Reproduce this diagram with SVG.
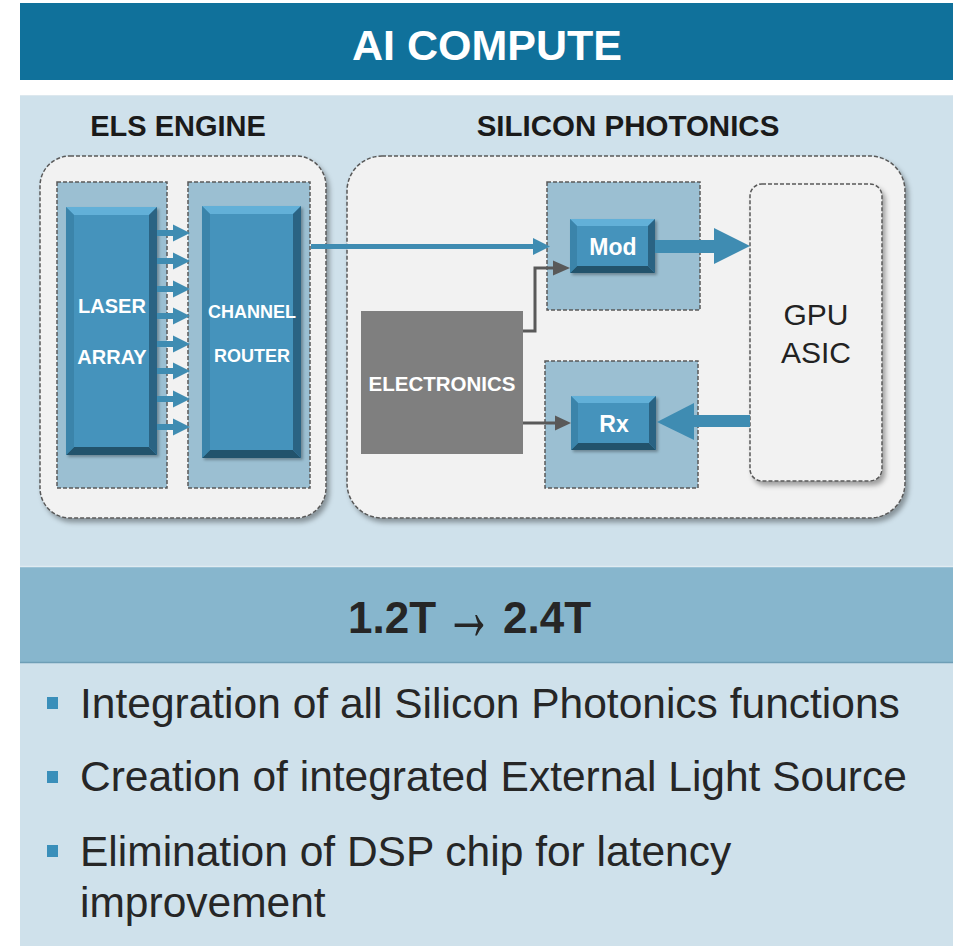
<svg xmlns="http://www.w3.org/2000/svg" width="959" height="946" viewBox="0 0 959 946">
<defs>
<filter id="sh" x="-10%" y="-10%" width="125%" height="125%">
<feDropShadow dx="3" dy="4" stdDeviation="2.5" flood-color="#000" flood-opacity="0.35"/>
</filter>
<filter id="sh2" x="-10%" y="-10%" width="125%" height="125%">
<feDropShadow dx="2" dy="2" stdDeviation="1.5" flood-color="#000" flood-opacity="0.3"/>
</filter>
<style>
.f{font-family:"Liberation Sans",Arial,sans-serif}
.b{font-weight:bold}
.outer{fill:#F2F2F2;stroke:#595959;stroke-width:1.5;stroke-dasharray:4 2}
.cont{fill:#9BBFD2;stroke:#595959;stroke-width:1.5;stroke-dasharray:4 2}
.bm{fill:#4493BC}
.bt{fill:#62B0D8}
.bb{fill:#23536C}
.bl{fill:#3B84AA}
.br{fill:#2B6383}
.wt{fill:#FFFFFF;text-anchor:middle}
.blue{fill:#3F8CB2}
.grayln{fill:none;stroke:#595959;stroke-width:3}
.grayhd{fill:#595959}
.bul{fill:#3A8FBA}
.bt2{fill:#262626;font-size:42.5px}
</style>
</defs>

<rect x="20" y="3" width="933" height="77" fill="#10719B"/>
<text class="f b" x="487" y="60" font-size="43" fill="#FFFFFF" text-anchor="middle">AI COMPUTE</text>

<rect x="20" y="95" width="933" height="851" fill="#CFE1EB"/>
<line x1="20" y1="95.5" x2="953" y2="95.5" stroke="#DDE8EE" stroke-width="1"/>

<text class="f b" x="178" y="136" font-size="29" fill="#1A1A1A" text-anchor="middle">ELS ENGINE</text>
<text class="f b" x="628" y="136" font-size="29.5" fill="#1A1A1A" text-anchor="middle">SILICON PHOTONICS</text>

<g id="els-engine">
<rect class="outer" x="40" y="156" width="286" height="362" rx="30" filter="url(#sh)"/>
</g>
<g id="silicon-photonics">
<rect class="outer" x="347" y="156" width="558" height="362" rx="35" filter="url(#sh)"/>
</g>

<g id="laser-array">
<rect class="cont" x="57" y="182" width="110" height="306"/>
<g filter="url(#sh2)">
<rect class="bm" x="66" y="207" width="91" height="248"/>
<polygon class="bt" points="66,207 157,207 149,215 74,215"/>
<polygon class="bb" points="66,455 157,455 149,447 74,447"/>
<polygon class="bl" points="66,207 74,215 74,447 66,455"/>
<polygon class="br" points="157,207 149,215 149,447 157,455"/>
</g>
<text class="f b wt" x="112" y="313" font-size="20">LASER</text>
<text class="f b wt" x="112" y="364" font-size="20">ARRAY</text>
</g>

<g id="channel-router">
<rect class="cont" x="188" y="182" width="122" height="306"/>
<g filter="url(#sh2)">
<rect class="bm" x="202" y="206" width="99" height="252"/>
<polygon class="bt" points="202,206 301,206 293,214 210,214"/>
<polygon class="bb" points="202,458 301,458 293,450 210,450"/>
<polygon class="bl" points="202,206 210,214 210,450 202,458"/>
<polygon class="br" points="301,206 293,214 293,450 301,458"/>
</g>
<text class="f b wt" x="252" y="318" font-size="18">CHANNEL</text>
<text class="f b wt" x="252" y="362" font-size="18">ROUTER</text>
</g>

<g id="mod">
<rect class="cont" x="547" y="182" width="153" height="128"/>
<g filter="url(#sh2)">
<rect class="bm" x="570" y="219" width="85" height="54"/>
<polygon class="bt" points="570,219 655,219 648,226 577,226"/>
<polygon class="bb" points="570,273 655,273 648,266 577,266"/>
<polygon class="bl" points="570,219 577,226 577,266 570,273"/>
<polygon class="br" points="655,219 648,226 648,266 655,273"/>
</g>
<text class="f b wt" x="613" y="255" font-size="23">Mod</text>
</g>

<g id="rx">
<rect class="cont" x="545" y="361" width="153" height="127"/>
<g filter="url(#sh2)">
<rect class="bm" x="571" y="396" width="85" height="54"/>
<polygon class="bt" points="571,396 656,396 649,403 578,403"/>
<polygon class="bb" points="571,450 656,450 649,443 578,443"/>
<polygon class="bl" points="571,396 578,403 578,443 571,450"/>
<polygon class="br" points="656,396 649,403 649,443 656,450"/>
</g>
<text class="f b wt" x="614" y="432" font-size="23">Rx</text>
</g>

<g id="electronics">
<rect x="361" y="311" width="162" height="143" fill="#7F7F7F"/>
<text class="f b wt" x="442" y="391" font-size="20.5">ELECTRONICS</text>
</g>

<g id="gpu-asic">
<rect class="outer" x="750" y="184" width="132" height="297" rx="12" filter="url(#sh)"/>
<text class="f" x="816" y="325" font-size="30" fill="#222222" text-anchor="middle">GPU</text>
<text class="f" x="816" y="363" font-size="30" fill="#222222" text-anchor="middle">ASIC</text>
</g>

<g id="connectors">
<g class="blue">
<rect x="157" y="230" width="18" height="6"/><polygon points="173,224.5 190,233 173,241.5"/>
<rect x="157" y="258" width="18" height="6"/><polygon points="173,252.5 190,261 173,269.5"/>
<rect x="157" y="286" width="18" height="6"/><polygon points="173,280.5 190,289 173,297.5"/>
<rect x="157" y="313" width="18" height="6"/><polygon points="173,307.5 190,316 173,324.5"/>
<rect x="157" y="341" width="18" height="6"/><polygon points="173,335.5 190,344 173,352.5"/>
<rect x="157" y="368" width="18" height="6"/><polygon points="173,362.5 190,371 173,379.5"/>
<rect x="157" y="396" width="18" height="6"/><polygon points="173,390.5 190,399 173,407.5"/>
<rect x="157" y="424" width="18" height="6"/><polygon points="173,418.5 190,427 173,435.5"/>
<rect x="311" y="244" width="224" height="5"/><polygon points="533,238 550,246.5 533,255"/>
<rect x="655" y="240" width="61" height="13"/><polygon points="714,228 750,246 714,264"/>
<rect x="692" y="415" width="58" height="12"/><polygon points="694,403 657,422 694,440"/>
</g>
<polyline class="grayln" points="523,331 535,331 535,268 555,268"/>
<polygon class="grayhd" points="553,260.5 570,268 553,275.5"/>
<line class="grayln" x1="523" y1="423" x2="557" y2="423"/>
<polygon class="grayhd" points="555,415.5 571,423 555,430.5"/>
</g>

<rect x="20" y="566" width="933" height="97" fill="#87B6CD"/>
<line x1="20" y1="566.5" x2="953" y2="566.5" stroke="#E0EBF1" stroke-width="1.5"/>
<line x1="20" y1="662.5" x2="953" y2="662.5" stroke="#6E9EB6" stroke-width="1.5"/>
<text class="f b" y="633" font-size="44" fill="#262626"><tspan x="348">1.2T</tspan><tspan x="503">2.4T</tspan></text>
<text class="f b" transform="translate(469,621) scale(1.05,1.9)" x="0" y="10" text-anchor="middle" font-size="46" fill="#262626">→</text>

<rect class="bul" x="47" y="697" width="11" height="12"/>
<text class="f bt2" x="80" y="718">Integration of all Silicon Photonics functions</text>
<rect class="bul" x="47" y="771" width="11" height="12"/>
<text class="f bt2" x="80" y="791">Creation of integrated External Light Source</text>
<rect class="bul" x="47" y="845" width="11" height="12"/>
<text class="f bt2" x="80" y="866">Elimination of DSP chip for latency</text>
<text class="f bt2" x="80" y="917">improvement</text>
</svg>
